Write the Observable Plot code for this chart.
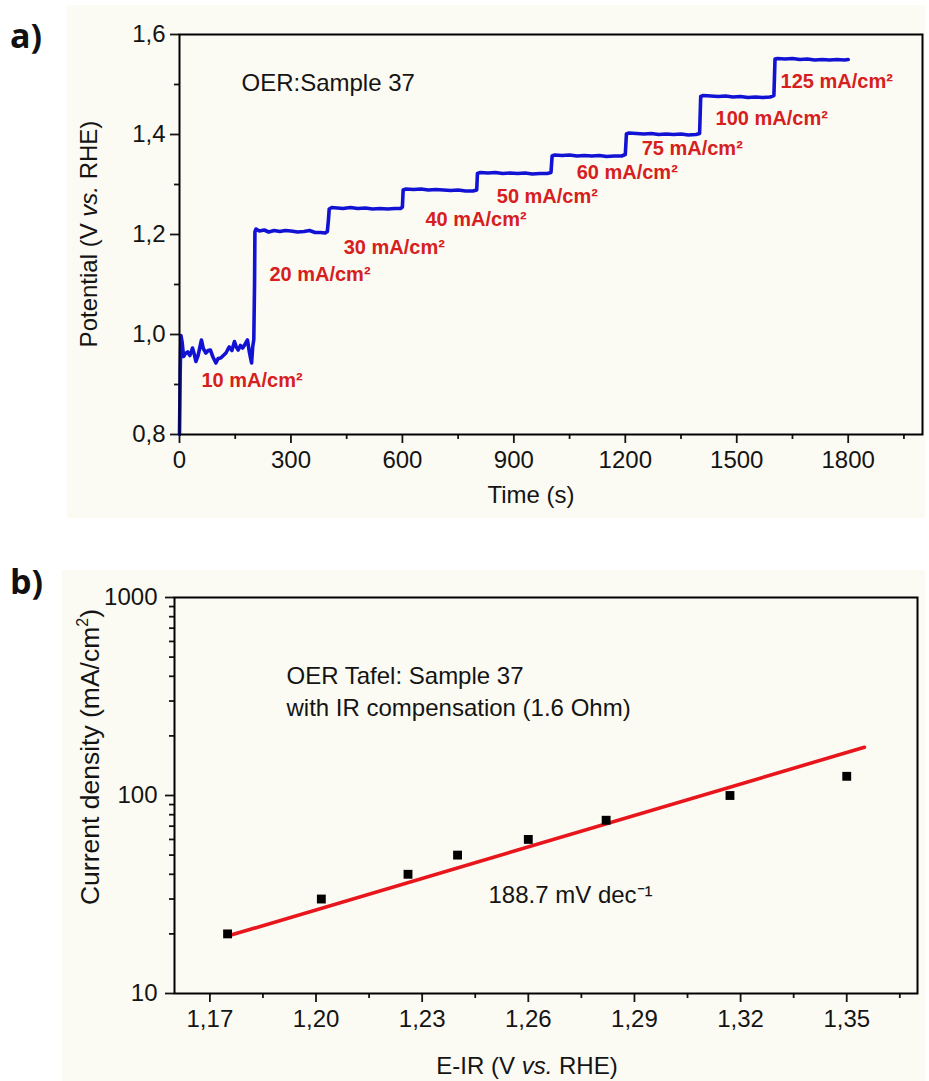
<!DOCTYPE html>
<html>
<head>
<meta charset="utf-8">
<script src="https://cdn.jsdelivr.net/npm/d3@7"></script>
<script src="https://cdn.jsdelivr.net/npm/@observablehq/plot@0.6"></script>
<style>
  body { margin: 0; background: #ffffff; }
  #page { position: relative; width: 929px; height: 1081px; overflow: hidden; }
  .panel-bg { position: absolute; background: #fcfbf3; }
  .chart { position: absolute; left: 0; }
  .chart svg { overflow: visible; }
</style>
</head>
<body>
<div id="page">
  <div class="panel-bg" style="left:67px; top:5px; width:858px; height:513px;"></div>
  <div class="panel-bg" style="left:62px; top:570px; width:863px; height:511px;"></div>
  <div class="chart" id="chartA" style="top:0px;"></div>
  <div class="chart" id="chartB" style="top:560px;"></div>
</div>
<script>
// ---------- a) chronopotentiometry steps ----------
const timeS = [
  0, 2, 4, 7, 11, 16, 22, 28, 35, 40, 44, 50, 55, 59, 64, 71, 77, 83, 90, 98,
  104, 111, 118, 125, 130, 134, 141, 148, 153, 158, 164, 170, 176, 183, 188, 192, 194, 197, 200, 202, 203,
  206, 215, 228, 240, 255, 270, 285, 300, 318, 335, 350, 365, 380, 392, 398, 401, 403,
  410, 425, 440, 460, 480, 500, 520, 540, 560, 580, 595, 600, 602,
  610, 630, 650, 670, 690, 710, 730, 750, 770, 790, 800, 802,
  810, 830, 850, 870, 890, 910, 930, 950, 970, 990, 1000, 1003,
  1010, 1030, 1050, 1070, 1090, 1110, 1130, 1150, 1170, 1190, 1200, 1203,
  1210, 1230, 1250, 1270, 1290, 1310, 1330, 1350, 1370, 1390, 1400, 1403,
  1410, 1430, 1450, 1470, 1490, 1510, 1530, 1550, 1570, 1590, 1600, 1603,
  1610, 1630, 1650, 1670, 1690, 1710, 1730, 1750, 1770, 1790, 1800
];
const potentialV = [
  0.800, 0.930, 0.998, 0.985, 0.956, 0.962, 0.965, 0.958, 0.973, 0.960, 0.946, 0.958, 0.975, 0.989, 0.972, 0.963, 0.968, 0.969, 0.955, 0.943,
  0.952, 0.953, 0.958, 0.963, 0.970, 0.975, 0.968, 0.986, 0.975, 0.969, 0.978, 0.973, 0.980, 0.989, 0.965, 0.950, 0.943, 0.975, 0.990, 1.100, 1.205,
  1.211, 1.207, 1.209, 1.205, 1.208, 1.206, 1.208, 1.207, 1.205, 1.206, 1.208, 1.204, 1.204, 1.203, 1.206, 1.230, 1.251,
  1.254, 1.253, 1.252, 1.254, 1.252, 1.253, 1.251, 1.252, 1.251, 1.252, 1.252, 1.255, 1.289,
  1.291, 1.290, 1.291, 1.289, 1.290, 1.289, 1.288, 1.289, 1.287, 1.287, 1.289, 1.322,
  1.324, 1.323, 1.324, 1.322, 1.323, 1.322, 1.323, 1.321, 1.322, 1.322, 1.324, 1.357,
  1.359, 1.358, 1.359, 1.357, 1.358, 1.357, 1.358, 1.356, 1.357, 1.357, 1.360, 1.401,
  1.403, 1.402, 1.401, 1.402, 1.400, 1.401, 1.400, 1.401, 1.399, 1.400, 1.402, 1.476,
  1.478, 1.477, 1.476, 1.477, 1.475, 1.476, 1.474, 1.475, 1.474, 1.475, 1.478, 1.551,
  1.552, 1.551, 1.552, 1.550, 1.551, 1.549, 1.550, 1.549, 1.550, 1.549, 1.550
];

// applied current density of each step and where its label sits (time, potential)
const stepCurrents = [10, 20, 30, 40, 50, 60, 75, 100, 125];
const stepLabelTime = [59, 242, 442, 662, 854, 1069, 1244, 1443, 1618];
const stepLabelPotential = [0.907, 1.119, 1.173, 1.229, 1.275, 1.323, 1.372, 1.432, 1.506];

const timeTicks = [0, 300, 600, 900, 1200, 1500, 1800];
const timeMinorTicks = [150, 450, 750, 1050, 1350, 1650, 1950];
const potentialTicks = [0.8, 1.0, 1.2, 1.4, 1.6];
const potentialMinorTicks = [0.9, 1.1, 1.3, 1.5];

// ---------- b) Tafel plot ----------
const tafelE = [1.175, 1.2015, 1.226, 1.240, 1.260, 1.282, 1.317, 1.350];
const tafelJ = [20, 30, 40, 50, 60, 75, 100, 125];
const tafelSlope = 188.7;            // mV per decade
const fitE = [1.175, 1.355];         // fitted range
const fitAnchor = {E: 1.26, j: 55};  // point the fit passes through

const eTicks = [1.17, 1.20, 1.23, 1.26, 1.29, 1.32, 1.35];
const eMinorTicks = [1.185, 1.215, 1.245, 1.275, 1.305, 1.335, 1.365];
const jTicks = [10, 100, 1000];
const jMinorTicks = [20, 30, 40, 50, 60, 70, 80, 90, 200, 300, 400, 500, 600, 700, 800, 900];

const comma = (digits) => (d) => d.toFixed(digits).replace(".", ",");
const FONT = "'Liberation Sans', Arial, Helvetica, sans-serif";
const INK = "#141414";

const trace = timeS.map((t, i) => ({t, v: potentialV[i]}));
const stepLabels = stepCurrents.map((c, i) => ({
  text: `${c} mA/cm²`, t: stepLabelTime[i], v: stepLabelPotential[i]
}));

const plotA = Plot.plot({
  width: 929, height: 520,
  marginLeft: 179, marginRight: 7, marginTop: 34, marginBottom: 86,
  style: {background: "transparent", fontFamily: FONT, fontSize: "24px", color: INK},
  x: {domain: [0, 2000]},
  y: {domain: [0.8, 1.6]},
  marks: [
    Plot.axisX(timeTicks, {tickSize: 9, tickPadding: 7, strokeWidth: 1.8, label: null, tickFormat: (d) => String(d), fontSize: 24}),
    Plot.axisX(timeMinorTicks, {tickSize: 5, strokeWidth: 1.8, label: null, tickFormat: () => ""}),
    Plot.axisY(potentialTicks, {tickSize: 9, tickPadding: 5, strokeWidth: 1.8, label: null, tickFormat: comma(1), fontSize: 24}),
    Plot.axisY(potentialMinorTicks, {tickSize: 5, strokeWidth: 1.8, label: null, tickFormat: () => ""}),
    Plot.line(trace, {x: "t", y: "v", stroke: "#1212d4", strokeWidth: 3.6, strokeLinejoin: "round", curve: "linear"}),
    Plot.text(stepLabels, {x: "t", y: "v", text: "text", textAnchor: "start", fill: "#d62020",
      fontWeight: "bold", fontSize: 20}),
    Plot.text(["OER:Sample 37"], {frameAnchor: "top-left", dx: 62, dy: 49, lineAnchor: "middle",
      textAnchor: "start", fill: INK, fontSize: 24}),
    Plot.frame({stroke: "#000", strokeWidth: 2})
  ]
});

const tafelPoints = tafelE.map((E, i) => ({E, j: tafelJ[i]}));
const fitLine = fitE.map((E) => ({E, j: fitAnchor.j * Math.pow(10, (E - fitAnchor.E) * 1000 / tafelSlope)}));

const plotB = Plot.plot({
  width: 929, height: 521,
  marginLeft: 174, marginRight: 12, marginTop: 37, marginBottom: 88,
  style: {background: "transparent", fontFamily: FONT, fontSize: "24px", color: INK},
  x: {domain: [1.16, 1.37]},
  y: {type: "log", domain: [10, 1000]},
  marks: [
    Plot.axisX(eTicks, {tickSize: 9, tickPadding: 7, strokeWidth: 1.8, label: null, tickFormat: comma(2), fontSize: 24}),
    Plot.axisX(eMinorTicks, {tickSize: 5, strokeWidth: 1.8, label: null, tickFormat: () => ""}),
    Plot.axisY(jTicks, {tickSize: 9, tickPadding: 8, strokeWidth: 1.8, label: null, tickFormat: (d) => String(d), fontSize: 24}),
    Plot.axisY(jMinorTicks, {tickSize: 5, strokeWidth: 1.8, label: null, tickFormat: () => ""}),
    Plot.line(fitLine, {x: "E", y: "j", stroke: "#e8161c", strokeWidth: 3.6}),
    Plot.dot(tafelPoints, {x: "E", y: "j", symbol: "square", r: 5, fill: "#000", stroke: null}),
    Plot.text(["OER Tafel: Sample 37\nwith IR compensation (1.6 Ohm)"], {frameAnchor: "top-left", dx: 112, dy: 92,
      lineAnchor: "middle", lineHeight: 1.34, textAnchor: "start", fill: INK, fontSize: 24}),
    Plot.text([`${tafelSlope} mV dec⁻¹`], {frameAnchor: "top-left", dx: 314, dy: 298, lineAnchor: "middle",
      textAnchor: "start", fill: INK, fontSize: 24}),
    Plot.frame({stroke: "#000", strokeWidth: 2})
  ]
});

document.getElementById("chartA").appendChild(plotA);
document.getElementById("chartB").appendChild(plotB);

// axis titles with an italic "vs." and panel tags, added to each svg
function addTitle(svg, {x, y, rotate = 0, size = 24, parts}) {
  const t = d3.select(svg).append("text")
    .attr("x", x).attr("y", y)
    .attr("text-anchor", "middle")
    .attr("font-family", FONT).attr("font-size", size).attr("fill", INK);
  if (rotate) t.attr("transform", `rotate(${rotate},${x},${y})`);
  for (const p of parts) {
    const s = t.append("tspan").text(p.text);
    if (p.italic) s.attr("font-style", "italic");
    if (p.sup) s.attr("font-size", Math.round(size * 0.62)).attr("dy", -Math.round(size * 0.42));
    if (p.after) s.attr("dy", Math.round(size * 0.42));
  }
}
function addTag(svg, label, x, y) {
  d3.select(svg).append("text").attr("x", x).attr("y", y)
    .attr("text-anchor", "start")
    .attr("font-family", "'Open Sans', 'Liberation Sans', sans-serif")
    .attr("font-weight", 700).attr("font-size", 34).attr("fill", "#111").text(label);
}

addTitle(plotA, {x: 97, y: 234, rotate: -90,
  parts: [{text: "Potential (V "}, {text: "vs.", italic: true}, {text: " RHE)"}]});
addTitle(plotA, {x: 531, y: 503,
  parts: [{text: "Time (s)"}]});
addTag(plotA, "a)", 10, 48);

addTitle(plotB, {x: 99, y: 197, rotate: -90, size: 26.5,
  parts: [{text: "Current density (mA/cm"}, {text: "2", sup: true}, {text: ")", after: true}]});
addTitle(plotB, {x: 527, y: 514,
  parts: [{text: "E-IR (V "}, {text: "vs.", italic: true}, {text: " RHE)"}]});
addTag(plotB, "b)", 10, 34);
</script>
</body>
</html>
